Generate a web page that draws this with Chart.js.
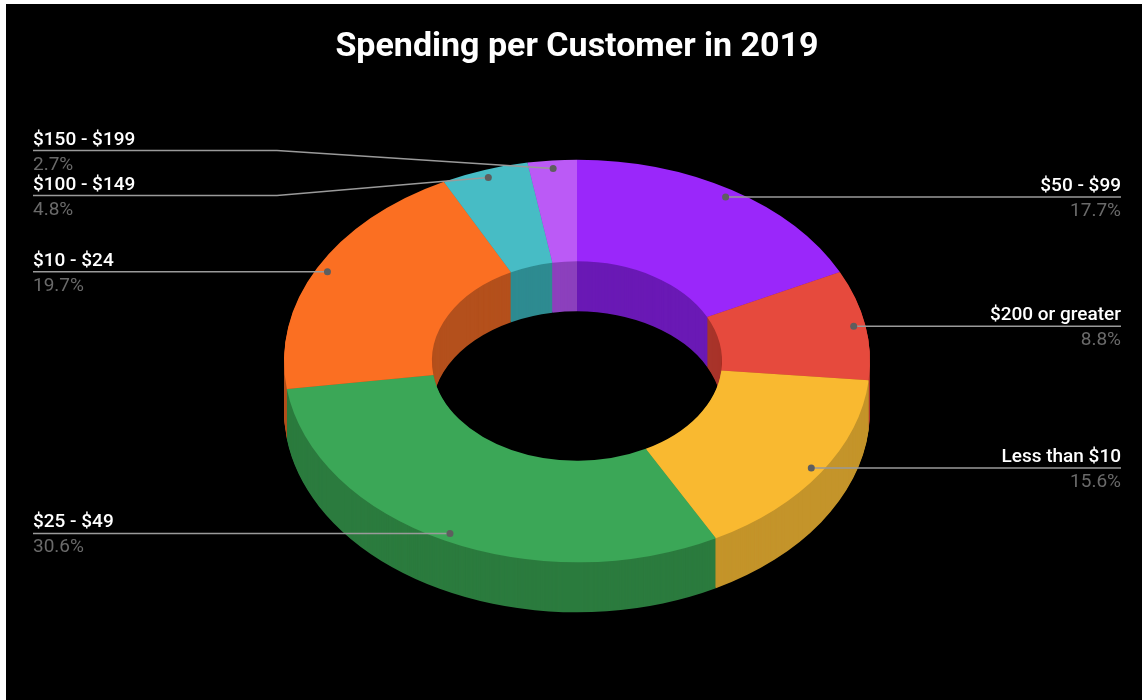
<!DOCTYPE html>
<html>
<head>
<meta charset="utf-8">
<script src="https://cdn.jsdelivr.net/npm/chart.js@4"></script>
<style>
  html, body { margin: 0; padding: 0; background: #fff; }
  #wrap { position: absolute; left: 6px; top: 4px; width: 1136px; height: 696px; background: #000; }
</style>
</head>
<body>
<div id="wrap"><canvas id="chart"></canvas></div>
<script>
// spending brackets, clockwise from 12 o'clock
const brackets = ['$50 - $99', '$200 or greater', 'Less than $10', '$25 - $49', '$10 - $24', '$100 - $149', '$150 - $199'];
const shares = [17.7, 8.8, 15.6, 30.6, 19.7, 4.8, 2.7];

const topColors = ['#9a27fa', '#e64a3d', '#f9b930', '#3ba757', '#fb6f22', '#47bcc5', '#bb5af6'];
const sideColors = ['#6a19b5', '#a8342a', '#c4942a', '#2b7b3e', '#b4501c', '#2e8b91', '#8c40bd'];

const CENTER_Y = 357;   // where the ring's centre lands after tilting
const TILT = 0.687;     // vertical squash of the disc
const DEPTH = 50;       // thickness of the ring
const GAP = 45;         // min vertical room between two labels
const LEFT_X = 27;
const RIGHT_X = 1115;
const BEND_X = 271;

function tilt(ctx, arcY, dy) {
  ctx.translate(0, CENTER_Y + dy);
  ctx.scale(1, TILT);
  ctx.translate(0, -arcY);
}

function sectorPath(ctx, a) {
  const p = a.getProps(['x', 'y', 'startAngle', 'endAngle', 'innerRadius', 'outerRadius']);
  ctx.beginPath();
  ctx.arc(p.x, p.y, p.outerRadius, p.startAngle, p.endAngle);
  ctx.arc(p.x, p.y, p.innerRadius, p.endAngle, p.startAngle, true);
  ctx.closePath();
}

const ring3d = {
  id: 'ring3d',
  beforeDatasetsDraw(chart) {
    const ctx = chart.ctx;
    const arcs = chart.getDatasetMeta(0).data;
    const y0 = arcs[0].y;
    // extrude the ring downwards, then leave the tilt on for the top face
    for (let d = DEPTH; d >= 1; d--) {
      ctx.save();
      tilt(ctx, y0, d);
      arcs.forEach((a, i) => {
        sectorPath(ctx, a);
        ctx.fillStyle = sideColors[i];
        ctx.fill();
      });
      ctx.restore();
    }
    ctx.save();
    tilt(ctx, y0, 0);
  },
  afterDatasetsDraw(chart) {
    chart.ctx.restore();
  }
};

function spread(items) {
  items.sort((a, b) => a.py - b.py);
  let groups = items.map(it => ({ items: [it], c: it.py }));
  let merged = true;
  while (merged) {
    merged = false;
    for (let i = 1; i < groups.length; i++) {
      const a = groups[i - 1], b = groups[i];
      const aBot = a.c + (a.items.length - 1) * GAP / 2;
      const bTop = b.c - (b.items.length - 1) * GAP / 2;
      if (bTop - aBot < GAP) {
        const all = a.items.concat(b.items);
        groups.splice(i - 1, 2, { items: all, c: all.reduce((s, it) => s + it.py, 0) / all.length });
        merged = true;
        break;
      }
    }
  }
  groups.forEach(g => {
    const top = g.c - (g.items.length - 1) * GAP / 2;
    g.items.forEach((it, k) => { it.ly = top + k * GAP; });
  });
}

const leaderLabels = {
  id: 'leaderLabels',
  afterDraw(chart) {
    const ctx = chart.ctx;
    const arcs = chart.getDatasetMeta(0).data;
    const left = [], right = [];
    arcs.forEach((a, i) => {
      const p = a.getProps(['x', 'y', 'startAngle', 'endAngle', 'outerRadius']);
      const mid = (p.startAngle + p.endAngle) / 2;
      const r = p.outerRadius * 0.96;
      const it = { i, px: p.x + r * Math.cos(mid), py: CENTER_Y + TILT * r * Math.sin(mid) };
      (it.px < p.x ? left : right).push(it);
    });
    spread(left);
    spread(right);

    ctx.save();
    const drawOne = (it, side) => {
      const x0 = side === 'left' ? LEFT_X : RIGHT_X;
      ctx.strokeStyle = '#9a9a9a';
      ctx.lineWidth = 1.5;
      ctx.beginPath();
      ctx.moveTo(x0, it.ly);
      if (Math.abs(it.ly - it.py) > 0.5) {
        ctx.lineTo(side === 'left' ? BEND_X : chart.width - BEND_X, it.ly);
      }
      ctx.lineTo(it.px, it.py);
      ctx.stroke();
      ctx.fillStyle = '#5e5e5e';
      ctx.beginPath();
      ctx.arc(it.px, it.py, 3.5, 0, Math.PI * 2);
      ctx.fill();

      ctx.textAlign = side;
      ctx.textBaseline = 'alphabetic';
      ctx.font = '500 19px Roboto';
      ctx.fillStyle = '#ffffff';
      ctx.fillText(brackets[it.i], x0, it.ly - 6);
      ctx.font = '19px Roboto';
      ctx.fillStyle = '#6a6a6a';
      ctx.fillText(shares[it.i].toFixed(1) + '%', x0, it.ly + 19);
    };
    left.forEach(it => drawOne(it, 'left'));
    right.forEach(it => drawOne(it, 'right'));
    ctx.restore();
  }
};

new Chart(document.getElementById('chart'), {
  type: 'doughnut',
  data: {
    labels: brackets,
    datasets: [{
      data: shares,
      backgroundColor: topColors,
      borderWidth: 0,
      radius: 293,
      cutout: '49.5%',
      clip: false
    }]
  },
  options: {
    responsive: true,
    maintainAspectRatio: false,
    animation: false,
    events: [],
    layout: { padding: { left: 6 } },
    plugins: {
      legend: { display: false },
      tooltip: { enabled: false },
      title: {
        display: true,
        text: 'Spending per Customer in 2019',
        color: '#ffffff',
        font: { family: 'Roboto', size: 34, weight: 'bold' },
        padding: { top: 23, bottom: 10 }
      }
    }
  },
  plugins: [ring3d, leaderLabels]
});
</script>
</body>
</html>
